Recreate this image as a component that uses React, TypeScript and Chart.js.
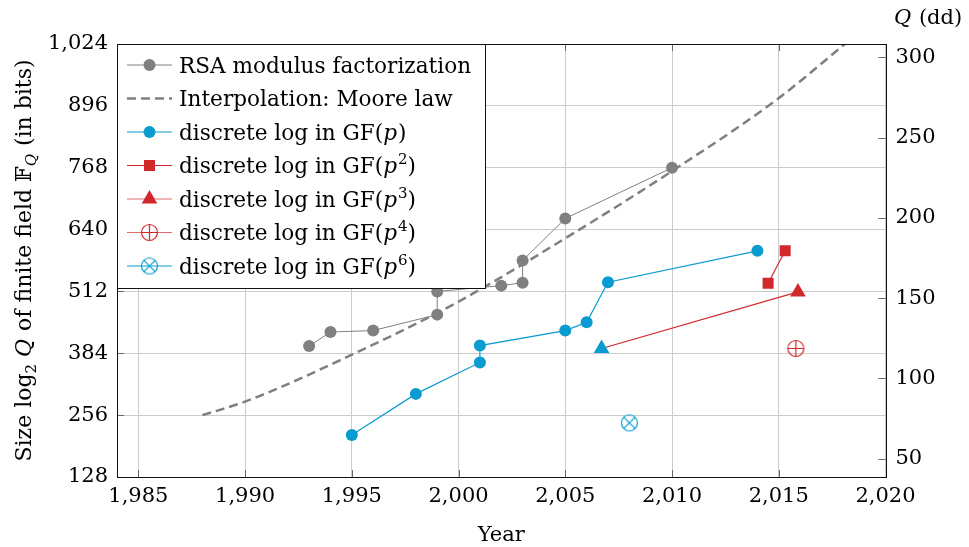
import React, { useEffect, useRef } from 'react';
import { Chart, registerables } from 'chart.js';

Chart.register(...registerables);

// ---- data ----
const X_TICKS = [1985, 1990, 1995, 2000, 2005, 2010, 2015, 2020];
const BITS_TICKS = [128, 256, 384, 512, 640, 768, 896, 1024];
const DD_TICKS = [50, 100, 150, 200, 250, 300];

const RSA_YEARS = [1993, 1994, 1996, 1999, 1999, 2002, 2003, 2003, 2005, 2010];
const RSA_BITS = [399, 428, 431, 464, 512, 524, 530, 576, 663, 768];

const MOORE_YEARS = [1988, 1990, 1995, 2000, 2005, 2010, 2015, 2018.1];
const MOORE_BITS = [256, 284, 381, 491, 622, 761, 912, 1024];

const GFP_YEARS = [1995, 1998, 2001, 2001, 2005, 2006, 2007, 2014];
const GFP_BITS = [215, 300, 365, 400, 431, 448, 531, 596];

const GFP2_YEARS = [2014.5, 2015.3];
const GFP2_BITS = [529, 596];

const GFP3_YEARS = [2006.7, 2015.9];
const GFP3_BITS = [394, 511];

const GFP4_YEARS = [2015.8];
const GFP4_BITS = [394];

const GFP6_YEARS = [2008];
const GFP6_BITS = [240];

const LABELS = [
  'RSA modulus factorization',
  'Interpolation: Moore law',
  'discrete log in GF(p)',
  'discrete log in GF(p^2)',
  'discrete log in GF(p^3)',
  'discrete log in GF(p^4)',
  'discrete log in GF(p^6)',
];

const X_TITLE = 'Year';
const RIGHT_TITLE = [{ t: 'Q', italic: true }, { t: ' (dd)' }];
const LEFT_TITLE = [
  { t: 'Size log' }, { t: '2', sub: true }, { t: ' ' }, { t: 'Q', italic: true },
  { t: ' of finite field ' }, { t: '\u{1D53D}' }, { t: 'Q', italic: true, sub: true }, { t: ' (in bits)' },
];

const LOG10_2 = Math.log10(2);

// ---- styles ----
const FAMILY = '"DejaVu Serif", "DejaVu Sans", serif';
const FS = 21;
const FS_LEGEND = 21.6;
const FS_TITLE = 22;
const GRAY = '#808080';
const BLUE = '#0a9bd0';
const RED = '#d1292b';
const RED_LIGHT = '#e06a6a';
const GRID = '#cccccc';

type Run = { t: string; italic?: boolean; sup?: boolean; sub?: boolean };

function labelRuns(label: string): Run[] {
  const m = label.match(/^(.*GF\()p(?:\^(\d+))?\)$/);
  if (!m) return [{ t: label }];
  const runs: Run[] = [{ t: m[1] }, { t: 'p', italic: true }];
  if (m[2]) runs.push({ t: m[2], sup: true });
  runs.push({ t: ')' });
  return runs;
}

function drawRuns(ctx: CanvasRenderingContext2D, runs: Run[], x: number, y: number, size: number, draw = true) {
  let cx = x;
  for (const r of runs) {
    const s = r.sup || r.sub ? Math.round(size * 0.7) : size;
    ctx.font = `${r.italic ? 'italic ' : ''}${s}px ${FAMILY}`;
    const dy = r.sup ? -size * 0.4 : r.sub ? size * 0.22 : 0;
    if (draw) ctx.fillText(r.t, cx, y + dy);
    cx += ctx.measureText(r.t).width + (r.italic ? 1 : 0);
  }
  return cx - x;
}

function makeSymbol(kind: 'oplus' | 'otimes', color: string, r: number) {
  const size = 2 * r + 3;
  const c = document.createElement('canvas');
  c.width = size;
  c.height = size;
  const g = c.getContext('2d')!;
  const m = size / 2;
  g.strokeStyle = color;
  g.lineWidth = 1.2;
  g.beginPath();
  g.arc(m, m, r, 0, Math.PI * 2);
  g.stroke();
  g.beginPath();
  if (kind === 'oplus') {
    g.moveTo(m - r, m); g.lineTo(m + r, m);
    g.moveTo(m, m - r); g.lineTo(m, m + r);
  } else {
    const d = r * Math.SQRT1_2;
    g.moveTo(m - d, m - d); g.lineTo(m + d, m + d);
    g.moveTo(m - d, m + d); g.lineTo(m + d, m - d);
  }
  g.stroke();
  return c;
}

const pairs = (xs: number[], ys: number[]) => xs.map((x, i) => ({ x, y: ys[i] }));

export default function App() {
  const ref = useRef<HTMLCanvasElement>(null);

  useEffect(() => {
    if (!ref.current) return;
    const oplus = makeSymbol('oplus', RED, 8);
    const otimes = makeSymbol('otimes', BLUE, 8);

    const legendStyles = [
      { line: GRAY, lw: 1, dash: [] as number[], marker: 'circle', color: GRAY },
      { line: GRAY, lw: 2.5, dash: [9, 5], marker: 'none', color: GRAY },
      { line: BLUE, lw: 1.2, dash: [], marker: 'circle', color: BLUE },
      { line: RED, lw: 1.2, dash: [], marker: 'rect', color: RED },
      { line: RED_LIGHT, lw: 1.2, dash: [], marker: 'triangle', color: RED },
      { line: RED_LIGHT, lw: 1.2, dash: [], marker: 'oplus', color: RED },
      { line: BLUE, lw: 1.2, dash: [], marker: 'otimes', color: BLUE },
    ];

    const overlay = {
      id: 'overlay',
      afterDatasetsDraw(chart: any) {
        const ctx: CanvasRenderingContext2D = chart.ctx;
        const { left, right, top, bottom } = chart.chartArea;
        const xs = chart.scales.x, ys = chart.scales.y, y2 = chart.scales.y2;
        ctx.save();
        ctx.strokeStyle = '#666';
        ctx.lineWidth = 1;
        ctx.beginPath();
        for (const v of X_TICKS) {
          const p = Math.round(xs.getPixelForValue(v)) + 0.5;
          ctx.moveTo(p, bottom); ctx.lineTo(p, bottom - 7);
          ctx.moveTo(p, top); ctx.lineTo(p, top + 7);
        }
        for (const v of BITS_TICKS) {
          const p = Math.round(ys.getPixelForValue(v)) + 0.5;
          ctx.moveTo(left, p); ctx.lineTo(left + 7, p);
        }
        for (const v of DD_TICKS) {
          const p = Math.round(y2.getPixelForValue(v)) + 0.5;
          ctx.moveTo(right, p); ctx.lineTo(right - 7, p);
        }
        ctx.stroke();
        ctx.strokeStyle = '#111';
        ctx.strokeRect(Math.round(left) + 0.5, Math.round(top) + 0.5, Math.round(right - left), Math.round(bottom - top));
        ctx.restore();
      },
      afterDraw(chart: any) {
        const ctx: CanvasRenderingContext2D = chart.ctx;
        const { left, top, bottom } = chart.chartArea;
        ctx.save();
        // legend box
        const L = { x: Math.round(left) + 0.5, y: Math.round(top) + 0.5, w: 368, h: 244 };
        ctx.fillStyle = '#fff';
        ctx.fillRect(L.x, L.y, L.w, L.h);
        ctx.strokeStyle = '#111';
        ctx.lineWidth = 1;
        ctx.strokeRect(L.x, L.y, L.w, L.h);
        LABELS.forEach((label, i) => {
          const st = legendStyles[i];
          const cy = 65 + i * 33.5;
          ctx.strokeStyle = st.line;
          ctx.lineWidth = st.lw;
          ctx.setLineDash(st.dash);
          ctx.beginPath();
          ctx.moveTo(127, cy); ctx.lineTo(172, cy);
          ctx.stroke();
          ctx.setLineDash([]);
          const mx = 149.5;
          ctx.fillStyle = st.color;
          if (st.marker === 'circle') {
            ctx.beginPath(); ctx.arc(mx, cy, 6, 0, Math.PI * 2); ctx.fill();
          } else if (st.marker === 'rect') {
            ctx.fillRect(mx - 5.5, cy - 5.5, 11, 11);
          } else if (st.marker === 'triangle') {
            const r = 9;
            ctx.beginPath();
            ctx.moveTo(mx, cy - r);
            ctx.lineTo(mx + r * Math.sin(2 * Math.PI / 3), cy + r / 2);
            ctx.lineTo(mx - r * Math.sin(2 * Math.PI / 3), cy + r / 2);
            ctx.closePath(); ctx.fill();
          } else if (st.marker === 'oplus') {
            ctx.drawImage(oplus, mx - oplus.width / 2, cy - oplus.height / 2);
          } else if (st.marker === 'otimes') {
            ctx.drawImage(otimes, mx - otimes.width / 2, cy - otimes.height / 2);
          }
          ctx.fillStyle = '#000';
          ctx.textBaseline = 'alphabetic';
          ctx.textAlign = 'left';
          drawRuns(ctx, labelRuns(label), 179, cy + 7.5, FS_LEGEND);
        });
        // left title (rotated)
        ctx.fillStyle = '#000';
        ctx.textAlign = 'left';
        ctx.textBaseline = 'alphabetic';
        const w = drawRuns(ctx, LEFT_TITLE as Run[], 0, 0, FS_TITLE, false);
        ctx.translate(24, (top + bottom) / 2);
        ctx.rotate(-Math.PI / 2);
        drawRuns(ctx, LEFT_TITLE as Run[], -w / 2, 7, FS_TITLE);
        ctx.setTransform(1, 0, 0, 1, 0, 0);
        // right title
        drawRuns(ctx, RIGHT_TITLE as Run[], 894, 24, FS);
        ctx.restore();
      },
    };

    const tickFont = { family: FAMILY, size: FS };
    const fmt = (v: any) => Number(v).toLocaleString('en-US');

    const chart = new Chart(ref.current, {
      type: 'scatter',
      data: {
        datasets: [
          {
            label: LABELS[0], data: pairs(RSA_YEARS, RSA_BITS), showLine: true,
            borderColor: GRAY, borderWidth: 1, pointRadius: 6, pointBackgroundColor: GRAY,
            pointBorderWidth: 0, yAxisID: 'y',
          },
          {
            label: LABELS[1], data: pairs(MOORE_YEARS, MOORE_BITS), showLine: true,
            borderColor: GRAY, borderWidth: 2.5, borderDash: [9, 5], pointRadius: 0,
            cubicInterpolationMode: 'monotone', yAxisID: 'y',
          },
          {
            label: LABELS[2], data: pairs(GFP_YEARS, GFP_BITS), showLine: true,
            borderColor: BLUE, borderWidth: 1.2, pointRadius: 6, pointBackgroundColor: BLUE,
            pointBorderWidth: 0, yAxisID: 'y',
          },
          {
            label: LABELS[3], data: pairs(GFP2_YEARS, GFP2_BITS), showLine: true,
            borderColor: RED, borderWidth: 1.2, pointRadius: 7.8, pointStyle: 'rect',
            pointBackgroundColor: RED, pointBorderWidth: 0, yAxisID: 'y',
          },
          {
            label: LABELS[4], data: pairs(GFP3_YEARS, GFP3_BITS), showLine: true,
            borderColor: RED, borderWidth: 1.2, pointRadius: 9, pointStyle: 'triangle',
            pointBackgroundColor: [BLUE, RED], pointBorderWidth: 0, yAxisID: 'y',
          },
          {
            label: LABELS[5], data: pairs(GFP4_YEARS, GFP4_BITS), showLine: false,
            pointStyle: oplus, pointRadius: 8, yAxisID: 'y',
          },
          {
            label: LABELS[6], data: pairs(GFP6_YEARS, GFP6_BITS), showLine: false,
            pointStyle: otimes, pointRadius: 8, yAxisID: 'y',
          },
        ],
      } as any,
      options: {
        animation: false,
        responsive: false,
        maintainAspectRatio: false,
        layout: { padding: { top: 44, left: 0, right: 0, bottom: 0 } },
        plugins: { legend: { display: false }, tooltip: { enabled: false } },
        scales: {
          x: {
            type: 'linear', min: 1984, max: 2020,
            afterBuildTicks: (s: any) => { s.ticks = X_TICKS.map((value) => ({ value })); },
            afterFit: (s: any) => { s.height = 70; },
            grid: { color: GRID, lineWidth: 1, drawTicks: false },
            border: { display: false },
            ticks: { font: tickFont, color: '#000', padding: 7, maxRotation: 0, callback: fmt },
            title: { display: true, text: X_TITLE, font: tickFont, color: '#000', padding: { top: 0, bottom: -1 } },
          },
          y: {
            type: 'linear', position: 'left', min: 128, max: 1024,
            afterBuildTicks: (s: any) => { s.ticks = BITS_TICKS.map((value) => ({ value })); },
            afterFit: (s: any) => { s.width = 117; },
            grid: { color: GRID, lineWidth: 1, drawTicks: false },
            border: { display: false },
            ticks: { font: tickFont, color: '#000', padding: 9, callback: fmt },
          },
          y2: {
            type: 'linear', position: 'right', min: 128 * LOG10_2, max: 1024 * LOG10_2,
            afterBuildTicks: (s: any) => { s.ticks = DD_TICKS.map((value) => ({ value })); },
            afterFit: (s: any) => { s.width = 83.5; },
            grid: { display: false, drawTicks: false },
            border: { display: false },
            ticks: { font: tickFont, color: '#000', padding: 10, callback: fmt },
          },
        },
      } as any,
      plugins: [overlay],
    });
    return () => chart.destroy();
  }, []);

  return (
    <div style={{ position: 'fixed', left: 0, top: 0, width: 969, height: 547, background: '#fff' }}>
      <canvas ref={ref} width={969} height={547} style={{ width: 969, height: 547, display: 'block' }} />
    </div>
  );
}
